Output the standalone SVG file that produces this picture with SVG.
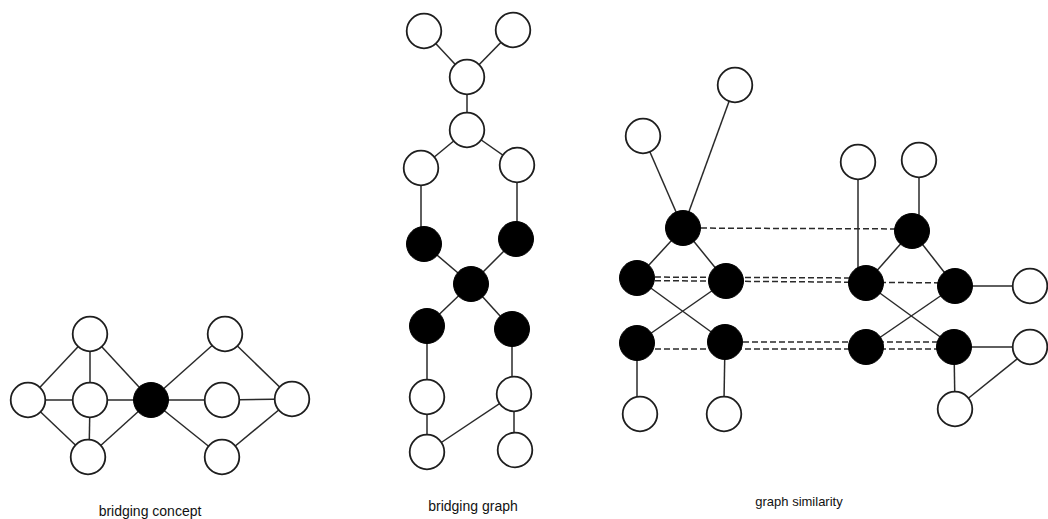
<svg xmlns="http://www.w3.org/2000/svg" width="1048" height="519" viewBox="0 0 1048 519">
<style>
.w{fill:#fff;stroke:#1e1e1e;stroke-width:1.8}
.b{fill:#000;stroke:#000;stroke-width:1}
.e{stroke:#2a2a2a;stroke-width:1.5;fill:none}
.d{stroke:#2a2a2a;stroke-width:1.5;fill:none;stroke-dasharray:6 3}
.t{font-family:"Liberation Sans",Arial,sans-serif;font-size:14px;fill:#111;text-anchor:middle}
</style>
<rect width="1048" height="519" fill="#fff"/>
<g id="connectors">
<!-- bridging concept -->
<line class="e" x1="28" y1="400" x2="90" y2="334"/>
<line class="e" x1="28" y1="400" x2="90" y2="400"/>
<line class="e" x1="28" y1="400" x2="88" y2="457"/>
<line class="e" x1="90" y1="334" x2="90" y2="400"/>
<line class="e" x1="90" y1="400" x2="89" y2="457"/>
<line class="e" x1="90" y1="334" x2="151" y2="400"/>
<line class="e" x1="90" y1="400" x2="151" y2="400"/>
<line class="e" x1="88" y1="457" x2="151" y2="400"/>
<line class="e" x1="151" y1="400" x2="225" y2="334"/>
<line class="e" x1="151" y1="400" x2="222" y2="400"/>
<line class="e" x1="151" y1="400" x2="222" y2="457"/>
<line class="e" x1="225" y1="334" x2="292" y2="399"/>
<line class="e" x1="222" y1="400" x2="292" y2="399"/>
<line class="e" x1="222" y1="457" x2="292" y2="399"/>
<!-- bridging graph -->
<line class="e" x1="424" y1="31" x2="467" y2="77"/>
<line class="e" x1="513" y1="30" x2="467" y2="77"/>
<line class="e" x1="467" y1="77" x2="467" y2="130"/>
<line class="e" x1="467" y1="130" x2="421" y2="168"/>
<line class="e" x1="467" y1="130" x2="517" y2="165"/>
<line class="e" x1="421" y1="168" x2="421" y2="240"/>
<line class="e" x1="517" y1="165" x2="517" y2="239"/>
<line class="e" x1="424" y1="244" x2="471" y2="284"/>
<line class="e" x1="516" y1="239" x2="471" y2="284"/>
<line class="e" x1="471" y1="284" x2="427" y2="326"/>
<line class="e" x1="471" y1="284" x2="512" y2="329"/>
<line class="e" x1="427" y1="326" x2="427" y2="452"/>
<line class="e" x1="512" y1="329" x2="512" y2="394"/>
<line class="e" x1="514" y1="394" x2="514" y2="450"/>
<line class="e" x1="514" y1="394" x2="427" y2="452"/>
<!-- graph similarity left -->
<line class="e" x1="643" y1="136" x2="683" y2="228"/>
<line class="e" x1="735" y1="85" x2="683" y2="228"/>
<line class="e" x1="683" y1="228" x2="637" y2="278"/>
<line class="e" x1="683" y1="228" x2="726" y2="281"/>
<line class="e" x1="637" y1="278" x2="725" y2="342"/>
<line class="e" x1="726" y1="281" x2="637" y2="343"/>
<line class="e" x1="637" y1="343" x2="637" y2="400"/>
<line class="e" x1="725" y1="342" x2="724" y2="400"/>
<!-- graph similarity right -->
<line class="e" x1="858" y1="162" x2="858" y2="270"/>
<line class="e" x1="919" y1="160" x2="919" y2="218"/>
<line class="e" x1="912" y1="231" x2="866" y2="283"/>
<line class="e" x1="912" y1="231" x2="955" y2="286"/>
<line class="e" x1="866" y1="283" x2="954" y2="347"/>
<line class="e" x1="955" y1="286" x2="866" y2="347"/>
<line class="e" x1="955" y1="286" x2="1031" y2="286"/>
<line class="e" x1="954" y1="347" x2="1032" y2="347"/>
<line class="e" x1="954" y1="347" x2="955" y2="409"/>
<line class="e" x1="955" y1="409" x2="1032" y2="347"/>
<!-- correspondences -->
<line class="d" x1="683" y1="228" x2="912" y2="229"/>
<line class="d" x1="637" y1="277" x2="866" y2="278"/>
<line class="d" x1="637" y1="280.5" x2="955" y2="283"/>
<line class="d" x1="725" y1="342" x2="954" y2="342"/>
<line class="d" x1="637" y1="349" x2="954" y2="349"/>
</g>
<g id="bc-nodes">
<circle id="bc1" class="w" cx="90" cy="334" r="17.3"/>
<circle id="bc2" class="w" cx="28" cy="400" r="17.3"/>
<circle id="bc3" class="w" cx="90" cy="400" r="17.3"/>
<circle id="bc4" class="w" cx="88" cy="457" r="17.3"/>
<circle id="bc5" class="b" cx="151" cy="400" r="17.5"/>
<circle id="bc6" class="w" cx="225" cy="334" r="17.3"/>
<circle id="bc7" class="w" cx="222" cy="400" r="17.3"/>
<circle id="bc8" class="w" cx="222" cy="457" r="17.3"/>
<circle id="bc9" class="w" cx="292" cy="399" r="17.3"/>
</g>
<g id="bg-nodes">
<circle id="bg1" class="w" cx="424" cy="31" r="17.3"/>
<circle id="bg2" class="w" cx="513" cy="30" r="17.3"/>
<circle id="bg3" class="w" cx="467" cy="77" r="17.3"/>
<circle id="bg4" class="w" cx="467" cy="130" r="17.3"/>
<circle id="bg5" class="w" cx="421" cy="168" r="17.3"/>
<circle id="bg6" class="w" cx="517" cy="165" r="17.3"/>
<circle id="bg7" class="b" cx="424" cy="244" r="17.5"/>
<circle id="bg8" class="b" cx="516" cy="239" r="17.5"/>
<circle id="bg9" class="b" cx="471" cy="284" r="17.5"/>
<circle id="bg10" class="b" cx="427" cy="326" r="17.5"/>
<circle id="bg11" class="b" cx="512" cy="329" r="17.5"/>
<circle id="bg12" class="w" cx="427" cy="397" r="17.3"/>
<circle id="bg13" class="w" cx="514" cy="394" r="17.3"/>
<circle id="bg14" class="w" cx="427" cy="452" r="17.3"/>
<circle id="bg15" class="w" cx="515" cy="450" r="17.3"/>
</g>
<g id="gs-nodes">
<circle id="gs1" class="w" cx="643" cy="136" r="17.3"/>
<circle id="gs2" class="w" cx="735" cy="85" r="17.3"/>
<circle id="gs3" class="b" cx="683" cy="228" r="17.5"/>
<circle id="gs4" class="b" cx="637" cy="278" r="17.5"/>
<circle id="gs5" class="b" cx="726" cy="281" r="17.5"/>
<circle id="gs6" class="b" cx="637" cy="343" r="17.5"/>
<circle id="gs7" class="b" cx="725" cy="342" r="17.5"/>
<circle id="gs8" class="w" cx="640" cy="414" r="17.3"/>
<circle id="gs9" class="w" cx="724" cy="414" r="17.3"/>
<circle id="gs10" class="w" cx="858" cy="162" r="17.3"/>
<circle id="gs11" class="w" cx="919" cy="160" r="17.3"/>
<circle id="gs12" class="b" cx="912" cy="231" r="17.5"/>
<circle id="gs13" class="b" cx="866" cy="283" r="17.5"/>
<circle id="gs14" class="b" cx="955" cy="286" r="17.5"/>
<circle id="gs15" class="w" cx="1030" cy="286" r="17.3"/>
<circle id="gs16" class="b" cx="866" cy="347" r="17.5"/>
<circle id="gs17" class="b" cx="954" cy="347" r="17.5"/>
<circle id="gs18" class="w" cx="1030" cy="347" r="17.3"/>
<circle id="gs19" class="w" cx="955" cy="409" r="17.3"/>
</g>
<g id="labels">
<text class="t" x="150" y="516">bridging concept</text>
<text class="t" x="473" y="511">bridging graph</text>
<text class="t" x="799" y="506" style="font-size:13px">graph similarity</text>
</g>
</svg>
